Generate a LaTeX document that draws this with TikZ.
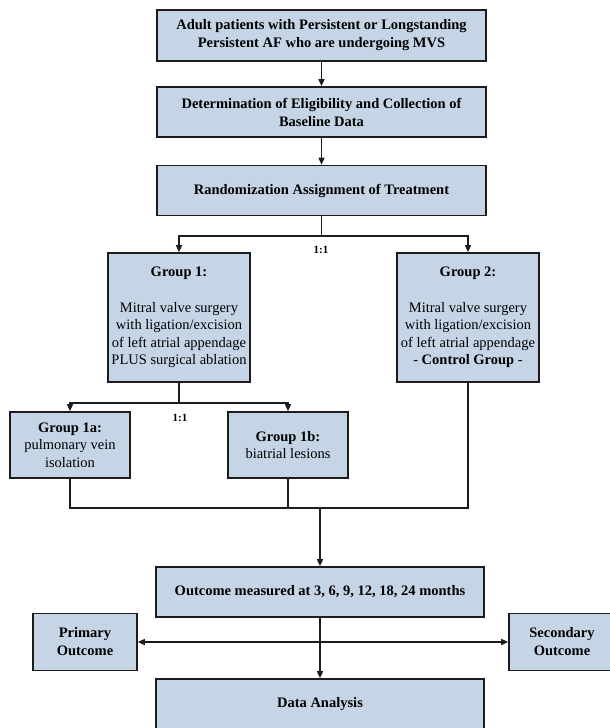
\documentclass[tikz,border=0pt]{standalone}
\usepackage{fontspec}
\setmainfont{Liberation Serif}
\usetikzlibrary{arrows.meta,positioning}
\definecolor{trialblue}{HTML}{C6D5E6}
\definecolor{trialedge}{HTML}{1C1C1C}
\tikzset{
  flowbox/.style={draw=trialedge, line width=1.6pt, fill=trialblue, align=center,
    inner sep=0pt, font=\fontsize{14.5}{17.5}\selectfont},
  flowtitle/.style={flowbox, font=\fontsize{14.5}{18}\selectfont\bfseries},
  flowline/.style={trialedge, line width=1.4pt},
  flowarrow/.style={flowline, -{Triangle[length=7pt,width=6pt]}},
  ratiolabel/.style={font=\fontsize{11}{13}\selectfont\bfseries, inner sep=1pt}
}

\begin{document}
\begin{tikzpicture}[x=1pt,y=-1pt]
  \useasboundingbox (0,0) rectangle (610,728);
  \clip (0,0) rectangle (610,728);
  % Enrolment and randomization
  \node[flowtitle, minimum width=329pt, minimum height=51pt] (adult) at (321.5,35.5)
    {Adult patients with Persistent or Longstanding\\Persistent AF who are undergoing MVS};
  \node[flowtitle, minimum width=329pt, minimum height=50pt] (elig) at (321.5,112)
    {Determination of Eligibility and Collection of\\Baseline Data};
  \node[flowtitle, minimum width=329pt, minimum height=50pt] (rand) at (321.5,190.5)
    {Randomization Assignment of Treatment};
  \draw[flowarrow] (adult) -- (elig);
  \draw[flowarrow] (elig) -- (rand);
  % Treatment arms
  \node[flowbox, minimum width=142pt, minimum height=129pt] (grpone) at (179,317.5)
    {\textbf{Group 1:}\\[18pt]Mitral valve surgery\\with ligation/excision\\of left atrial appendage\\PLUS surgical ablation};
  \node[flowbox, minimum width=142pt, minimum height=129pt] (grptwo) at (468,317.5)
    {\textbf{Group 2:}\\[18pt]Mitral valve surgery\\with ligation/excision\\of left atrial appendage\\- \textbf{Control Group} -};
  \coordinate (split) at (321.5,236);
  \draw[flowline] (rand.south) -- (split);
  \draw[flowarrow] (split) -| (grpone.north);
  \draw[flowarrow] (split) -| (grptwo.north);
  \node[ratiolabel] (ratioone) at (321,250) {1:1};
  % Ablation subgroups
  \node[flowbox, minimum width=120pt, minimum height=66pt] (grpa) at (70,445)
    {\textbf{Group 1a:}\\pulmonary vein\\isolation};
  \node[flowbox, minimum width=120pt, minimum height=66pt] (grpb) at (288,445)
    {\textbf{Group 1b:}\\biatrial lesions};
  \coordinate (subsplit) at (179,403);
  \draw[flowline] (grpone.south) -- (subsplit);
  \draw[flowarrow] (subsplit) -| (grpa.north);
  \draw[flowarrow] (subsplit) -| (grpb.north);
  \node[ratiolabel] (ratiotwo) at (180,418) {1:1};
  % Merge into follow-up
  \node[flowtitle, minimum width=328pt, minimum height=50pt] (outcome) at (320,592)
    {Outcome measured at 3, 6, 9, 12, 18, 24 months};
  \coordinate (merge) at (320,508);
  \draw[flowline] (grpa.south) |- (grptwo.south |- merge) -- (grptwo.south);
  \draw[flowline] (grpb.south) -- (grpb.south |- merge);
  \draw[flowarrow] (merge) -- (outcome.north);
  % Outcomes and analysis
  \node[flowtitle, minimum width=104pt, minimum height=57pt] (primary) at (85,642)
    {Primary\\Outcome};
  \node[flowtitle, minimum width=106pt, minimum height=57pt] (secondary) at (562,642)
    {Secondary\\Outcome};
  \node[flowtitle, minimum width=328pt, minimum height=50pt] (analysis) at (320,704)
    {Data Analysis};
  \coordinate (hub) at (320,642);
  \draw[flowarrow] (outcome.south) -- (analysis.north);
  \draw[flowarrow] (hub) -- (primary.east);
  \draw[flowarrow] (hub) -- (secondary.west);
\end{tikzpicture}
\end{document}
